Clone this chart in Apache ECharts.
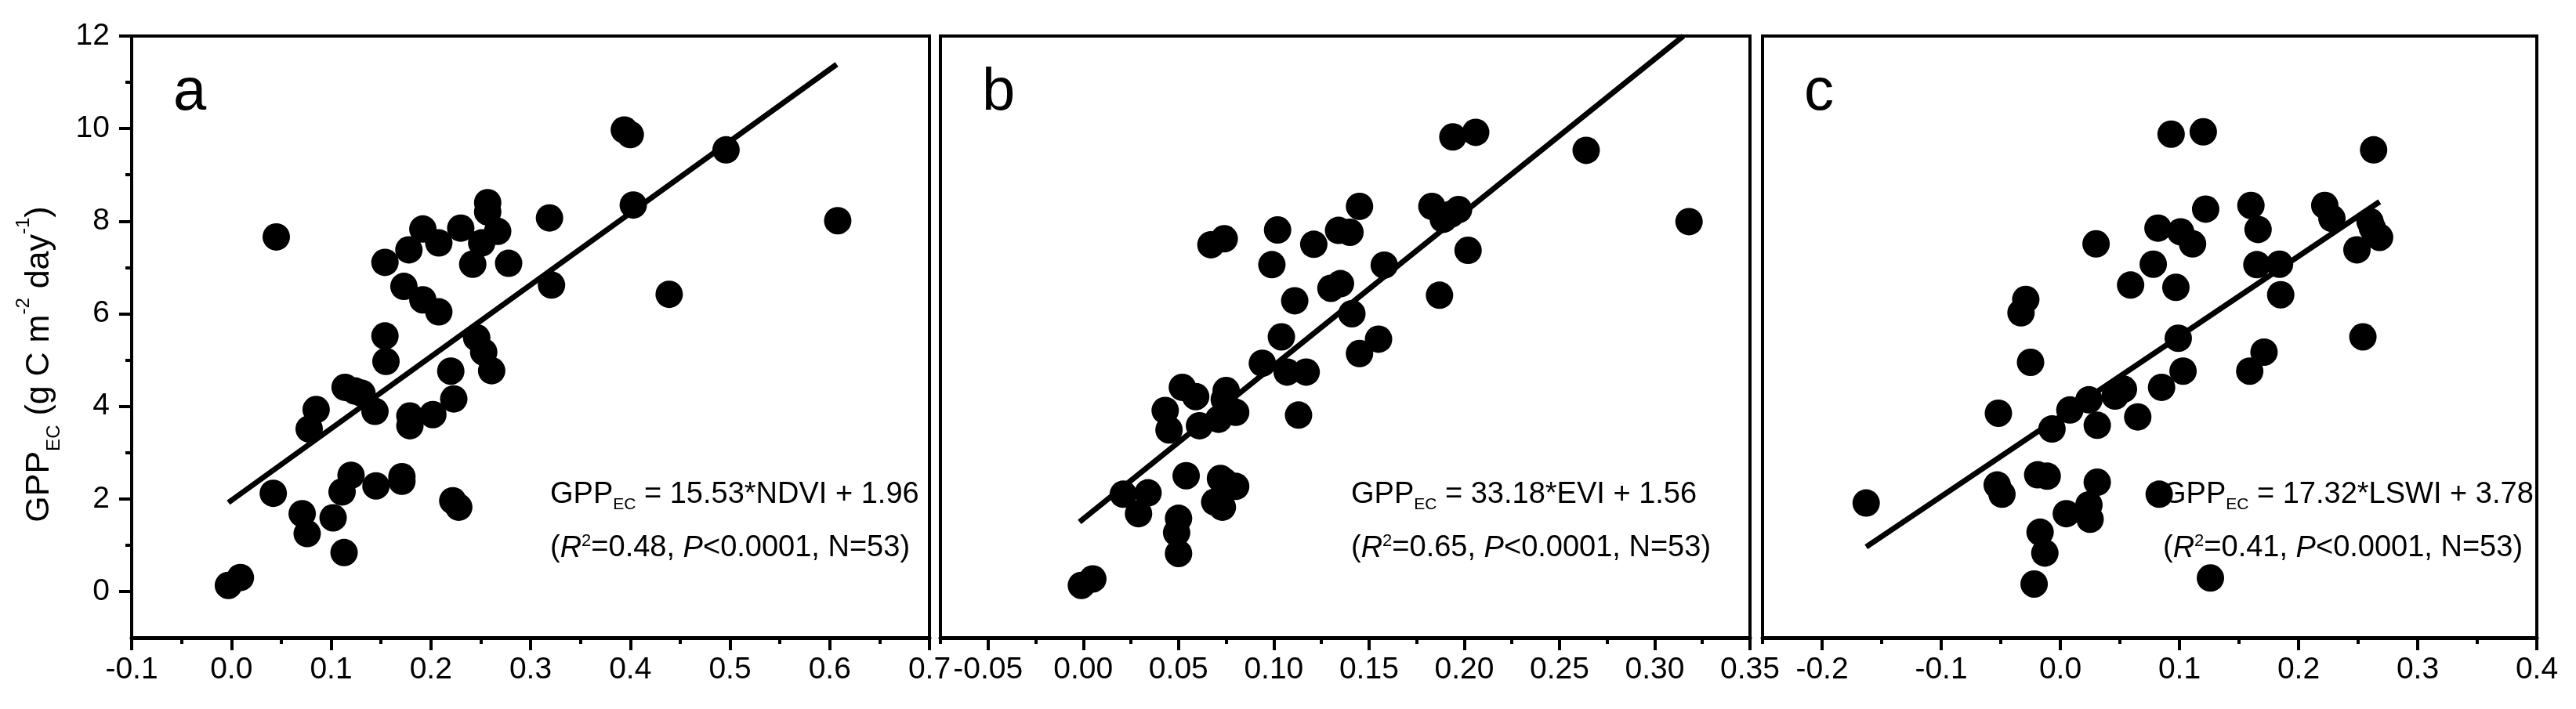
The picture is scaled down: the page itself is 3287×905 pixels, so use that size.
<!DOCTYPE html>
<html>
<head>
<meta charset="utf-8">
<script src="https://cdn.jsdelivr.net/npm/echarts@6/dist/echarts.min.js"></script>
</head>
<body style="margin:0; background:#fff">
<div id="container" style="width:3287px; height:905px;"></div>
<script>
// GPP_EC against NDVI / EVI / LSWI
var ndviPts = [[-0.003,0.13],[0.009,0.30],[0.045,7.66],[0.042,2.12],[0.071,1.68],[0.076,1.25],[0.085,3.93],[0.078,3.51],
  [0.102,1.59],[0.111,2.15],[0.120,2.51],[0.113,0.84],[0.114,4.41],[0.124,4.33],[0.131,4.28],[0.144,3.89],[0.145,2.28],
  [0.171,2.48],[0.171,2.38],[0.154,7.11],[0.154,5.52],[0.155,4.97],[0.178,7.38],[0.173,6.59],[0.192,7.83],[0.192,6.30],
  [0.208,6.04],[0.208,7.53],[0.179,3.79],[0.179,3.58],[0.202,3.82],[0.220,4.76],[0.223,4.16],[0.222,1.96],[0.228,1.82],
  [0.230,7.85],[0.242,7.07],[0.246,5.48],[0.253,5.17],[0.261,4.77],[0.251,7.53],[0.257,8.40],[0.257,8.20],[0.267,7.78],
  [0.278,7.09],[0.319,8.07],[0.321,6.62],[0.403,8.35],[0.439,6.42],[0.394,9.97],[0.400,9.87],[0.496,9.54],[0.608,8.01]];

var eviPts = [[-0.001,0.13],[0.005,0.27],[0.021,2.10],[0.029,1.68],[0.034,2.13],[0.043,3.91],[0.045,3.49],[0.050,1.58],
  [0.049,1.27],[0.050,0.82],[0.052,4.41],[0.054,2.50],[0.059,4.21],[0.061,3.58],[0.067,7.49],[0.074,7.62],[0.075,4.34],
  [0.071,3.72],[0.080,3.87],[0.072,2.44],[0.080,2.27],[0.069,1.93],[0.073,1.82],[0.094,4.93],[0.104,5.50],[0.107,4.74],
  [0.117,4.74],[0.113,3.81],[0.111,6.28],[0.099,7.06],[0.102,7.81],[0.121,7.50],[0.130,6.55],[0.135,6.65],[0.141,6.00],
  [0.145,8.32],[0.134,7.80],[0.140,7.76],[0.155,5.45],[0.145,5.14],[0.158,7.05],[0.183,8.32],[0.189,8.04],[0.197,8.25],
  [0.202,7.37],[0.187,6.40],[0.194,9.82],[0.206,9.92],[0.264,9.53],[0.318,7.99],[0.074,2.38],[0.074,4.15],[0.193,8.15]];

var lswiPts = [[-0.163,1.91],[-0.052,3.85],[-0.053,2.30],[-0.049,2.10],[-0.029,6.31],[-0.033,6.02],[-0.025,4.95],
  [-0.019,2.52],[-0.011,2.49],[-0.017,1.28],[-0.013,0.83],[-0.022,0.16],[-0.007,3.51],[0.008,3.92],[0.024,4.14],
  [0.031,3.59],[0.005,1.68],[0.024,1.87],[0.025,1.56],[0.031,2.36],[0.030,7.51],[0.046,4.22],[0.053,4.37],[0.065,3.77],
  [0.085,4.41],[0.103,4.76],[0.099,5.47],[0.171,5.17],[0.159,4.76],[0.083,2.10],[0.126,0.29],[0.059,6.62],[0.078,7.07],
  [0.097,6.57],[0.082,7.85],[0.101,7.77],[0.111,7.51],[0.122,8.26],[0.160,8.34],[0.166,7.82],[0.165,7.06],[0.184,7.07],
  [0.185,6.41],[0.222,8.34],[0.228,8.06],[0.093,9.88],[0.120,9.93],[0.249,7.38],[0.254,5.50],[0.260,7.99],[0.263,9.54],
  [0.268,7.65],[0.262,7.85]];

// fitted lines, end points as drawn
var ndviFit = [[-0.003,1.92],[0.607,11.39]];
var eviFit = [[-0.002,1.50],[0.315,12.0]];
var lswiFit = [[-0.163,0.96],[0.268,8.42]];

var ndviTicks = [-0.1,0,0.1,0.2,0.3,0.4,0.5,0.6,0.7];
var ndviMinor = [-0.05,0.05,0.15,0.25,0.35,0.45,0.55,0.65];
var eviTicks = [-0.05,0,0.05,0.1,0.15,0.2,0.25,0.3,0.35];
var eviMinor = [-0.075,-0.025,0.025,0.075,0.125,0.175,0.225,0.275,0.325];
var lswiTicks = [-0.2,-0.1,0,0.1,0.2,0.3,0.4];
var lswiMinor = [-0.25,-0.15,-0.05,0.05,0.15,0.25,0.35];
var gppTicks = [0,2,4,6,8,10,12];
var gppMinor = [1,3,5,7,9,11];

var panelLetters = ['a','b','c'];
var equations = ['15.53*NDVI + 1.96','33.18*EVI + 1.56','17.32*LSWI + 3.78'];
var r2Values = ['0.48','0.65','0.41'];

var FONT = '"Liberation Sans", Arial, sans-serif';

var panels = [
  {left:168, width:1018, min:-0.1, max:0.7, ticks:ndviTicks, minor:ndviMinor, dec:1, pts:ndviPts, fit:ndviFit, textX:702},
  {left:1200, width:1033, min:-0.075, max:0.35, ticks:eviTicks, minor:eviMinor, dec:2, pts:eviPts, fit:eviFit, textX:1724},
  {left:2249, width:988, min:-0.25, max:0.4, ticks:lswiTicks, minor:lswiMinor, dec:1, pts:lswiPts, fit:lswiFit, textX:2760}
];

// sub/superscripts: padding on one side shifts the glyphs by half of it
var richEq = {
  m: {fontSize:38, fontFamily:FONT, fill:'#000'},
  i: {fontSize:38, fontFamily:FONT, fontStyle:'italic', fill:'#000'},
  s: {fontSize:21, fontFamily:FONT, fill:'#000', padding:[24, 0, 0, 0]},
  p: {fontSize:22, fontFamily:FONT, fill:'#000', padding:[0, 0, 18, 0]}
};
var richY = {
  m: {fontSize:43, fontFamily:FONT, fill:'#000'},
  s: {fontSize:24, fontFamily:FONT, fill:'#000', padding:[38, 0, 0, 0]},
  p: {fontSize:24, fontFamily:FONT, fill:'#000', padding:[0, 0, 40, 0]}
};

var grids = [], xAxes = [], yAxes = [], series = [], graphics = [];

panels.forEach(function (p, i) {
  grids.push({left:p.left, top:46, width:p.width, height:768, show:true,
    borderColor:'#000', borderWidth:4, backgroundColor:'transparent'});

  xAxes.push({
    gridIndex:i, type:'value', min:p.min, max:p.max, position:'bottom',
    axisLine:{show:true, onZero:false, lineStyle:{color:'#000', width:5}},
    axisTick:{show:true, inside:false, length:16, lineStyle:{color:'#000', width:4}, customValues:p.ticks},
    axisLabel:{show:true, customValues:p.ticks, margin:22, fontSize:39, color:'#000', fontFamily:FONT,
      formatter:function (v) { return v.toFixed(p.dec); }},
    splitLine:{show:false}
  });
  xAxes.push({
    gridIndex:i, type:'value', min:p.min, max:p.max, position:'bottom',
    axisLine:{show:false, onZero:false},
    axisTick:{show:true, inside:false, length:8, lineStyle:{color:'#000', width:4}, customValues:p.minor},
    axisLabel:{show:false}, splitLine:{show:false}
  });

  var first = i === 0;
  yAxes.push({
    gridIndex:i, type:'value', min:-1, max:12, position:'left',
    axisLine:{show:first, onZero:false, lineStyle:{color:'#000', width:4}},
    axisTick:{show:first, inside:false, length:16, lineStyle:{color:'#000', width:4}, customValues:gppTicks},
    axisLabel:{show:first, customValues:gppTicks, margin:28, fontSize:39, color:'#000', fontFamily:FONT},
    splitLine:{show:false}
  });
  yAxes.push({
    gridIndex:i, type:'value', min:-1, max:12, position:'left',
    axisLine:{show:false, onZero:false},
    axisTick:{show:first, inside:false, length:8, lineStyle:{color:'#000', width:4}, customValues:gppMinor},
    axisLabel:{show:false}, splitLine:{show:false}
  });

  series.push({
    type:'scatter', xAxisIndex:2 * i, yAxisIndex:2 * i, data:p.pts,
    symbol:'circle', symbolSize:35, itemStyle:{color:'#000', opacity:1}
  });
  series.push({
    type:'line', xAxisIndex:2 * i, yAxisIndex:2 * i, data:p.fit,
    symbol:'none', lineStyle:{color:'#000', width:7}, clip:true
  });

  graphics.push({type:'text', x:p.left + 53, y:119, style:{text:panelLetters[i],
    fontSize:76, fontFamily:FONT, fill:'#000', align:'left', verticalAlign:'middle'}});
  graphics.push({type:'text', x:p.textX, y:632, style:{
    text:'{m|GPP}{s|EC}{m| = ' + equations[i] + '}', rich:richEq, align:'left', verticalAlign:'middle'}});
  graphics.push({type:'text', x:p.textX, y:700, style:{
    text:'{m|(}{i|R}{p|2}{m|=' + r2Values[i] + ', }{i|P}{m|<0.0001, N=53)}', rich:richEq,
    align:'left', verticalAlign:'middle'}});
});

graphics.push({type:'text', x:50, y:465, rotation:Math.PI / 2, style:{
  text:'{m|GPP}{s|EC}{m| (g C m}{p|-2}{m| day}{p|-1}{m|)}', rich:richY, align:'center', verticalAlign:'middle'}});

var chart = echarts.init(document.getElementById('container'));
chart.setOption({
  animation:false,
  backgroundColor:'#fff',
  grid:grids,
  xAxis:xAxes,
  yAxis:yAxes,
  series:series,
  graphic:graphics
});
</script>
</body>
</html>
